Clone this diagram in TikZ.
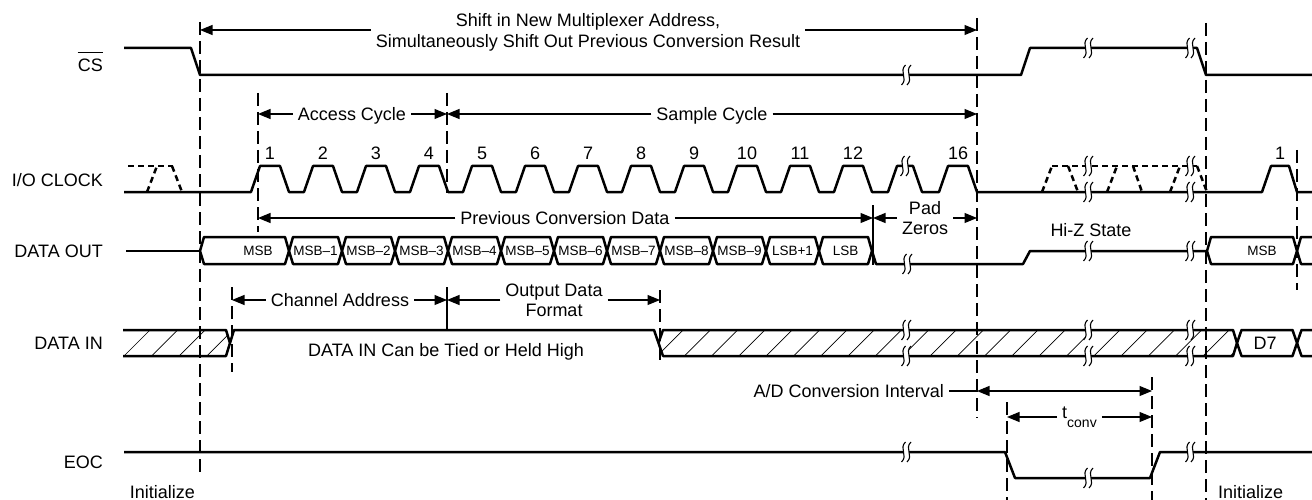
\documentclass[tikz,border=0pt]{standalone}
\usepackage{fontspec}
\setmainfont{Liberation Sans}
\usetikzlibrary{arrows.meta}
\newcommand{\tdbrk}[2]{%
  \begin{scope}[shift={(#1,#2)}]
    \fill[white] (-0.5,-10) .. controls (-7.5,-3.5) and (2.5,3.5) .. (-4.5,10) -- (1,10) .. controls (8,3.5) and (-2,-3.5) .. (5,-10) -- cycle;
    \draw[brkline] (-0.5,-10) .. controls (-7.5,-3.5) and (2.5,3.5) .. (-4.5,10);
    \draw[brkline] (5,-10) .. controls (-2,-3.5) and (8,3.5) .. (1,10);
  \end{scope}}
\begin{document}
\begin{tikzpicture}[x=1pt,y=-1pt,
  sig/.style={line width=2.5pt,line join=round},
  dsig/.style={sig,dash pattern=on 6pt off 4pt},
  guide/.style={line width=1.1pt,dash pattern=on 13pt off 6pt},
  tick/.style={line width=1.1pt},
  dim/.style={line width=1.1pt,-{Triangle[length=12.5pt,width=10pt]}},
  dimboth/.style={line width=1.1pt,{Triangle[length=12.5pt,width=10pt]}-{Triangle[length=12.5pt,width=10pt]}},
  hatch/.style={line width=0.7pt},
  brkline/.style={line width=1.1pt},
  lbl/.style={inner xsep=5pt,inner ysep=0pt,font=\fontsize{18}{20}\selectfont,text height=12.9pt,text depth=0pt},
  siglbl/.style={lbl,inner xsep=0pt,anchor=east},
  cell/.style={inner sep=0pt,font=\fontsize{13.5}{15}\selectfont,text height=9.7pt,text depth=0pt}
]
\fill[white] (0,0) rectangle (1312,500);
\useasboundingbox (0,0) rectangle (1312,500);

% ---------- guide lines ----------
\draw[guide] (200,22) -- (200,473);
\draw[guide] (258,93) -- (258,232);
\draw[guide] (447,93) -- (447,193);
\draw[tick] (447,287) -- (447,330);
\draw[guide] (977,18) -- (977,418);
\draw[guide] (1206,23) -- (1206,500);
\draw[guide] (1297,150) -- (1297,290);
\draw[tick] (873,205) -- (873,265);
\draw[guide] (232,287) -- (232,372);
\draw[guide] (660,290) -- (660,364);
\draw[guide] (1152,377) -- (1152,500);
\draw[guide] (1007,402) -- (1007,500);

% ---------- signal labels ----------
\node[siglbl] (cs) at (103,65) {CS};
\draw[line width=1.3pt] ([yshift=5.5pt]cs.north west) -- ([yshift=5.5pt]cs.north east);
\node[siglbl] (clk) at (103,180) {I/O CLOCK};
\node[siglbl] (dout) at (103,251) {DATA OUT};
\node[siglbl] (din) at (103,343) {DATA IN};
\node[siglbl] (eoc) at (103,462) {EOC};

% ---------- CS ----------
\draw[sig] (124,48) -- (191,48) -- (200,75) -- (1021,75) -- (1030,48) -- (1197,48) -- (1206,75) -- (1314,75);

% ---------- I/O CLOCK ----------
\draw[dsig] (128,166) -- (173,166);
\draw[dsig] (147,192) -- (157,166);
\draw[dsig] (172,166) -- (182,192);
\draw[sig] (124,192) foreach \k in {0,...,11} { -- ({251+53*\k},192) -- ({260+53*\k},166) -- ({280+53*\k},166) -- ({289+53*\k},192) }
  -- (888,192) -- (897,166) -- (913,166) -- (922,192) -- (939,192) -- (948,166) -- (968,166) -- (977,192)
  -- (1262,192) -- (1271,166) -- (1289,166) -- (1297,192) -- (1314,192);
\draw[dsig] (1052,166) -- (1197,166);
\draw[dsig] (1042,192) -- (1052,166);
\draw[dsig] (1068,166) -- (1078,192);
\draw[dsig] (1107,192) -- (1117,166);
\draw[dsig] (1133,166) -- (1142,192);
\draw[dsig] (1170,192) -- (1180,166);
\draw[dsig] (1197,166) -- (1207,192);
\foreach \n in {1,...,12} \node[lbl,inner xsep=0pt] (num\n) at ({270+53*(\n-1)},153) {\n};
\node[lbl,inner xsep=0pt] (num16) at (958,153) {16};
\node[lbl,inner xsep=0pt] (numb1) at (1280,153) {1};

% ---------- DATA OUT ----------
\draw[sig] (126,251) -- (200,251);
\draw[sig] (200,251) -- (204,237) -- (285,237) -- (289,251) -- (285,264) -- (204,264) -- cycle;
\foreach \k in {0,...,10} \draw[sig] ({289+53*\k},251) -- ({293+53*\k},237) -- ({338+53*\k},237) -- ({342+53*\k},251) -- ({338+53*\k},264) -- ({293+53*\k},264) -- cycle;
\draw[sig] (872,251) -- (876,264) -- (1023,264) -- (1030,251) -- (1207,251);
\draw[sig] (1207,251) -- (1211,237) -- (1293,237) -- (1297,251) -- (1293,264) -- (1211,264) -- cycle;
\draw[sig] (1297,251) -- (1301,237) -- (1314,237);
\draw[sig] (1297,251) -- (1301,264) -- (1314,264);
\node[cell] (c0) at (258,251) {MSB};
\foreach \t [count=\k] in {MSB–1,MSB–2,MSB–3,MSB–4,MSB–5,MSB–6,MSB–7,MSB–8,MSB–9,LSB+1,LSB}
  \node[cell] (c\k) at ({315.5+53*(\k-1)},251) {\t};
\node[cell] (cmsb) at (1262,251) {MSB};
\node[lbl] (hiz) at (1091,230) {Hi-Z State};

% ---------- DATA IN ----------
\begin{scope}
  \clip (123,330) -- (226,330) -- (230,343) -- (226,356) -- (123,356) -- cycle;
  \foreach \k in {0,...,4} \draw[hatch] ({121+27.6*\k},359) -- ({153+27.6*\k},327);
\end{scope}
\begin{scope}
  \clip (658.5,343) -- (663,330) -- (1233,330) -- (1237,343) -- (1233,356) -- (663,356) -- cycle;
  \foreach \k in {0,...,21} \draw[hatch] ({654+27.3*\k},359) -- ({686+27.3*\k},327);
\end{scope}
\draw[sig] (123,330) -- (226,330) -- (230,343);
\draw[sig] (123,356) -- (226,356) -- (234,330) -- (654,330) -- (663,356) -- (1233,356) -- (1237,343);
\draw[sig] (658.5,343) -- (663,330) -- (1233,330) -- (1237,343);
\draw[sig] (1237,343) -- (1241.5,330) -- (1292.5,330) -- (1297,343) -- (1292.5,356) -- (1241.5,356) -- cycle;
\draw[sig] (1297,343) -- (1301.5,330) -- (1314,330);
\draw[sig] (1297,343) -- (1301.5,356) -- (1314,356);
\node[lbl,inner xsep=0pt] (d7) at (1265,343) {D7};
\node[lbl] (tied) at (446,350) {DATA IN Can be Tied or Held High};

% ---------- EOC ----------
\draw[sig] (124,452) -- (1005,452) -- (1015,478) -- (1150,478) -- (1160,452) -- (1314,452);

% ---------- breaks ----------
\tdbrk{906}{75}\tdbrk{1088}{48}\tdbrk{1190}{48}
\tdbrk{905}{166}\tdbrk{1088}{192}\tdbrk{1190}{192}\tdbrk{1088}{166}\tdbrk{1190}{166}
\tdbrk{907}{264}\tdbrk{1088}{251}\tdbrk{1190}{251}
\tdbrk{906}{330}\tdbrk{906}{356}\tdbrk{1088}{330}\tdbrk{1088}{356}\tdbrk{1190}{330}\tdbrk{1190}{356}
\tdbrk{906}{452}\tdbrk{1088}{478}\tdbrk{1190}{452}

% ---------- dimension annotations ----------
\node[lbl] (shift1) at (588,20) {Shift in New Multiplexer Address,};
\node[lbl] (shift2) at (588,41) {Simultaneously Shift Out Previous Conversion Result};
\coordinate (sL) at (200,30); \coordinate (sR) at (977,30);
\draw[dim] (shift2.west |- sL) -- (sL);
\draw[dim] (shift2.east |- sR) -- (sR);

\node[lbl] (acc) at (352,114) {Access Cycle};
\coordinate (aL) at (258,114); \coordinate (aR) at (447,114);
\draw[dim] (acc.west) -- (aL);
\draw[dim] (acc.east) -- (aR);

\node[lbl] (smp) at (712,114) {Sample Cycle};
\coordinate (smL) at (447,114); \coordinate (smR) at (977,114);
\draw[dim] (smp.west) -- (smL);
\draw[dim] (smp.east) -- (smR);

\node[lbl] (prev) at (565,218) {Previous Conversion Data};
\coordinate (pvL) at (258,218); \coordinate (pvR) at (873,218);
\draw[dim] (prev.west) -- (pvL);
\draw[dim] (prev.east) -- (pvR);

\node[lbl] (pad) at (925,208) {Pad};
\node[lbl] (zeros) at (925,228) {Zeros};
\coordinate (pzL) at (873,218); \coordinate (pzR) at (977,218);
\draw[dim] (zeros.west |- pzL) -- (pzL);
\draw[dim] (zeros.east |- pzR) -- (pzR);

\node[lbl] (chan) at (340,300) {Channel Address};
\coordinate (chL) at (232,300); \coordinate (chR) at (447,300);
\draw[dim] (chan.west) -- (chL);
\draw[dim] (chan.east) -- (chR);

\node[lbl] (odf1) at (554,290) {Output Data};
\node[lbl] (odf2) at (554,310) {Format};
\coordinate (odL) at (447,300); \coordinate (odR) at (660,300);
\draw[dim] (odf1.west |- odL) -- (odL);
\draw[dim] (odf1.east |- odR) -- (odR);

\node[lbl,anchor=east] (adc) at (949,391) {A/D Conversion Interval};
\coordinate (adL) at (977,391); \coordinate (adR) at (1152,391);
\draw[tick] (adc.east) -- (adL);
\draw[dimboth] (adL) -- (adR);

\node[lbl,anchor=base west] (tconv) at (1057,418) {t\raisebox{-9pt}{\fontsize{14}{15}\selectfont conv}};
\coordinate (tcL) at (1007,417); \coordinate (tcR) at (1152,417);
\draw[dim] (tconv.west |- tcL) -- (tcL);
\draw[dim] (tconv.east |- tcR) -- (tcR);

\node[lbl,anchor=east,inner xsep=0pt] (init1) at (195,492) {Initialize};
\node[lbl,anchor=west,inner xsep=0pt] (init2) at (1218,492) {Initialize};
\end{tikzpicture}
\end{document}
